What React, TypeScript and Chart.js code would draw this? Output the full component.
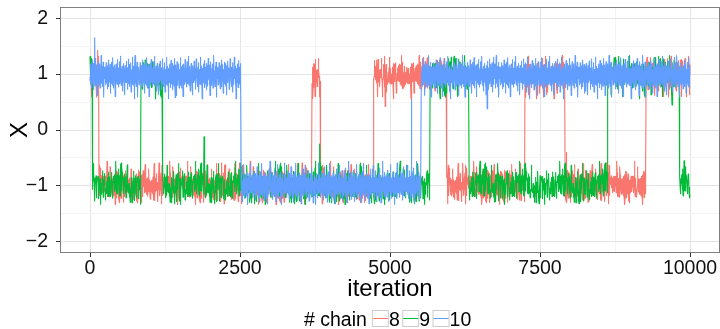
import { useEffect, useRef } from "react";
import { Chart, registerables } from "chart.js";

Chart.register(...registerables);

const FONT = '"Liberation Sans", Arial, Helvetica, sans-serif';

// ---- chains ---------------------------------------------------------------
const chainNames = ["8", "9", "10"];
const chainColors = ["#F8766D", "#00BA38", "#619CFF"];

const totalIterations = 10000;
const drawStep = 5; // one plotted sample every 5 iterations

// Mode visits: [first iteration spent in the mode, mode centre]
const chain8Modes = [
  [0, 1], [150, -1], [3700, 1], [3840, -1], [4730, 1],
  [5950, -1], [7250, 1], [7920, -1], [9270, 1],
];
const chain9Modes = [
  [0, 1], [40, -1], [850, 1], [1210, -1], [5670, 1],
  [6320, -1], [8630, 1], [9830, -1],
];
const chain10Modes = [[0, 1], [2520, -1], [5520, 1]];

// Isolated excursions: [iteration, value]
const chain8Spikes = [[130, 1.42], [3760, 1.25], [4920, 0.42], [4990, 1.3], [7940, -0.4]];
const chain9Spikes = [[10, 1.22], [1900, -0.12], [3830, -0.25], [5980, 1.28], [9700, 0.45], [9900, -0.55]];
const chain10Spikes = [[80, 1.65], [1420, 0.58], [5360, 0.55], [6620, 0.38]];

// Within-mode scatter around the mode centre (positive = towards the other mode)
const wobble = [
  0.08, -0.12, 0.19, -0.04, 0.13, -0.20, 0.03, 0.16, -0.09, 0.26,
  -0.15, 0.06, -0.03, 0.22, -0.25, 0.10, 0.00, 0.14, -0.17, 0.34,
  -0.08, 0.04, 0.17, -0.21, 0.09, -0.06, 0.20, -0.29, 0.12, -0.07,
  0.25, -0.13, 0.02, 0.11, -0.16, 0.40, -0.10, 0.07, -0.18, 0.15,
  -0.02, 0.18, -0.26, 0.05, 0.14, -0.07, 0.23, -0.11, 0.03, -0.22,
  0.17, -0.04, 0.10, -0.32, 0.12, 0.20, -0.09, 0.04, -0.14, 0.30,
  -0.03, 0.08, -0.19, 0.14, 0.00, 0.21, -0.10, 0.37, -0.15, 0.07,
  -0.07, 0.15, -0.23, 0.11, 0.02, -0.11, 0.27, -0.05, 0.17, -0.27,
  0.06, -0.17, 0.13, -0.01, 0.22, -0.12, 0.10, -0.20, 0.32, -0.04,
  0.14, -0.08, 0.18, -0.30, 0.08, 0.03, -0.14, 0.20, -0.03, 0.44,
  -0.10, 0.04, 0.15, -0.18, 0.07, -0.07, 0.24, 0.00, -0.24, 0.11,
  0.17, -0.12, 0.06, -0.19, 0.28, -0.04, 0.11, -0.15, 0.21, -0.28,
  0.09, 0.01, -0.10, 0.18, -0.16, 0.38, -0.06, 0.13, -0.22, 0.10,
  -0.03, 0.20, -0.11, 0.04, -0.18, 0.25, -0.08, 0.14, -0.33, 0.07,
  0.16, -0.06, 0.22, -0.14, 0.03, -0.21, 0.11, 0.41, -0.12, 0.06,
];

// ---- axes -----------------------------------------------------------------
const xTicks = [0, 1250, 2500, 3750, 5000, 6250, 7500, 8750, 10000];
const xLabelled = [0, 2500, 5000, 7500, 10000];
const yTicks = [-2, -1.5, -1, -0.5, 0, 0.5, 1, 1.5, 2];
const yLabelled = [-2, -1, 0, 1, 2];

const xTitle = "iteration";
const yTitle = "X";
const legendTitle = "# chain";

function buildTrace(modes: number[][], spikes: number[][], stride: number, shift: number) {
  const pts: { x: number; y: number }[] = [];
  let m = 0;
  for (let i = 0; i * drawStep <= totalIterations; i++) {
    const it = i * drawStep;
    while (m + 1 < modes.length && modes[m + 1][0] <= it) m++;
    const centre = modes[m][1];
    const k = (i * stride + shift + Math.floor(i / wobble.length) * 37) % wobble.length;
    pts.push({ x: it, y: centre - Math.sign(centre) * wobble[k] });
  }
  for (const [it, v] of spikes) pts[Math.round(it / drawStep)].y = v;
  return pts;
}

const minus = (v: number) => (v < 0 ? "\u2212" + Math.abs(v) : String(v));

const decorations = {
  id: "decorations",
  afterDatasetsDraw(chart: any) {
    const { ctx, chartArea: a } = chart;
    ctx.save();
    ctx.strokeStyle = "#7f7f7f";
    ctx.lineWidth = 1;
    ctx.strokeRect(a.left + 0.5, a.top + 0.5, a.right - a.left - 1, a.bottom - a.top - 1);
    ctx.restore();
  },
  afterDraw(chart: any) {
    const { ctx, chartArea: a } = chart;
    ctx.save();
    ctx.fillStyle = "#000";
    ctx.textBaseline = "alphabetic";

    // axis titles
    ctx.font = `24px ${FONT}`;
    ctx.textAlign = "center";
    ctx.fillText(xTitle, (a.left + a.right) / 2, 296);
    ctx.save();
    ctx.translate(27, (a.top + a.bottom) / 2);
    ctx.rotate(-Math.PI / 2);
    ctx.fillText(yTitle, 0, 0);
    ctx.restore();

    // legend
    ctx.font = `19.5px ${FONT}`;
    ctx.textAlign = "left";
    const base = 326;
    let x = 304;
    ctx.fillText(legendTitle, x, base);
    x += ctx.measureText(legendTitle).width + 5;
    chainNames.forEach((name, i) => {
      ctx.fillStyle = "#fff";
      ctx.fillRect(x, 310, 17, 17);
      ctx.strokeStyle = "#cccccc";
      ctx.lineWidth = 1;
      ctx.strokeRect(x + 0.5, 310.5, 16, 16);
      ctx.strokeStyle = chainColors[i];
      ctx.beginPath();
      ctx.moveTo(x + 1, 318.5);
      ctx.lineTo(x + 16, 318.5);
      ctx.stroke();
      x += 17;
      ctx.fillStyle = "#000";
      ctx.fillText(name, x, base);
      x += ctx.measureText(name).width + 2.5;
    });
    ctx.restore();
  },
};

export default function App() {
  const canvasRef = useRef<HTMLCanvasElement | null>(null);

  useEffect(() => {
    const traces = [
      buildTrace(chain8Modes, chain8Spikes, 7, 0),
      buildTrace(chain9Modes, chain9Spikes, 11, 53),
      buildTrace(chain10Modes, chain10Spikes, 1, 101),
    ];
    const chart = new Chart(canvasRef.current as HTMLCanvasElement, {
      type: "line",
      data: {
        datasets: traces.map((data, i) => ({
          label: chainNames[i],
          data,
          borderColor: chainColors[i],
          borderWidth: 1.1,
          borderJoinStyle: "round" as const,
          pointRadius: 0,
          fill: false,
          tension: 0,
          order: 3 - i, // chain 10 ends up on top
        })),
      },
      plugins: [decorations],
      options: {
        animation: false,
        responsive: false,
        parsing: false,
        normalized: true,
        events: [],
        layout: { padding: { top: 7, left: 0, right: 0, bottom: 0 } },
        plugins: { legend: { display: false }, tooltip: { enabled: false } },
        scales: {
          x: {
            type: "linear",
            min: -500,
            max: 10500,
            afterBuildTicks: (s: any) => {
              s.ticks = xTicks.map((value) => ({ value }));
            },
            afterFit: (s: any) => {
              s.height = 76;
              s.paddingLeft = 0;
              s.paddingRight = 0;
            },
            ticks: {
              autoSkip: false,
              maxRotation: 0,
              padding: 0,
              color: "#111",
              font: { family: FONT, size: 19.5 },
              callback: (v: any) => (xLabelled.includes(v) ? String(v) : ""),
            },
            grid: {
              lineWidth: 1,
              color: (c: any) => (xLabelled.includes(c.tick?.value) ? "#e4e4e4" : "#f4f4f4"),
              tickColor: (c: any) => (xLabelled.includes(c.tick?.value) ? "#333" : "rgba(0,0,0,0)"),
              tickLength: 4,
            },
            border: { display: false },
          },
          y: {
            type: "linear",
            min: -2.2,
            max: 2.2,
            afterBuildTicks: (s: any) => {
              s.ticks = yTicks.map((value) => ({ value }));
            },
            afterFit: (s: any) => {
              s.width = 60;
              s.paddingTop = 0;
              s.paddingBottom = 0;
            },
            ticks: {
              autoSkip: false,
              padding: 8,
              color: "#111",
              font: { family: FONT, size: 19.5 },
              callback: (v: any) => (yLabelled.includes(v) ? minus(v) : ""),
            },
            grid: {
              lineWidth: 1,
              color: (c: any) => (yLabelled.includes(c.tick?.value) ? "#e4e4e4" : "#f4f4f4"),
              tickColor: (c: any) => (yLabelled.includes(c.tick?.value) ? "#333" : "rgba(0,0,0,0)"),
              tickLength: 4,
            },
            border: { display: false },
          },
        },
      },
    } as any);
    return () => chart.destroy();
  }, []);

  return (
    <div style={{ position: "fixed", left: 0, top: 0, width: 720, height: 329, background: "#fff" }}>
      <canvas ref={canvasRef} width={720} height={329} style={{ display: "block", width: 720, height: 329 }} />
    </div>
  );
}
